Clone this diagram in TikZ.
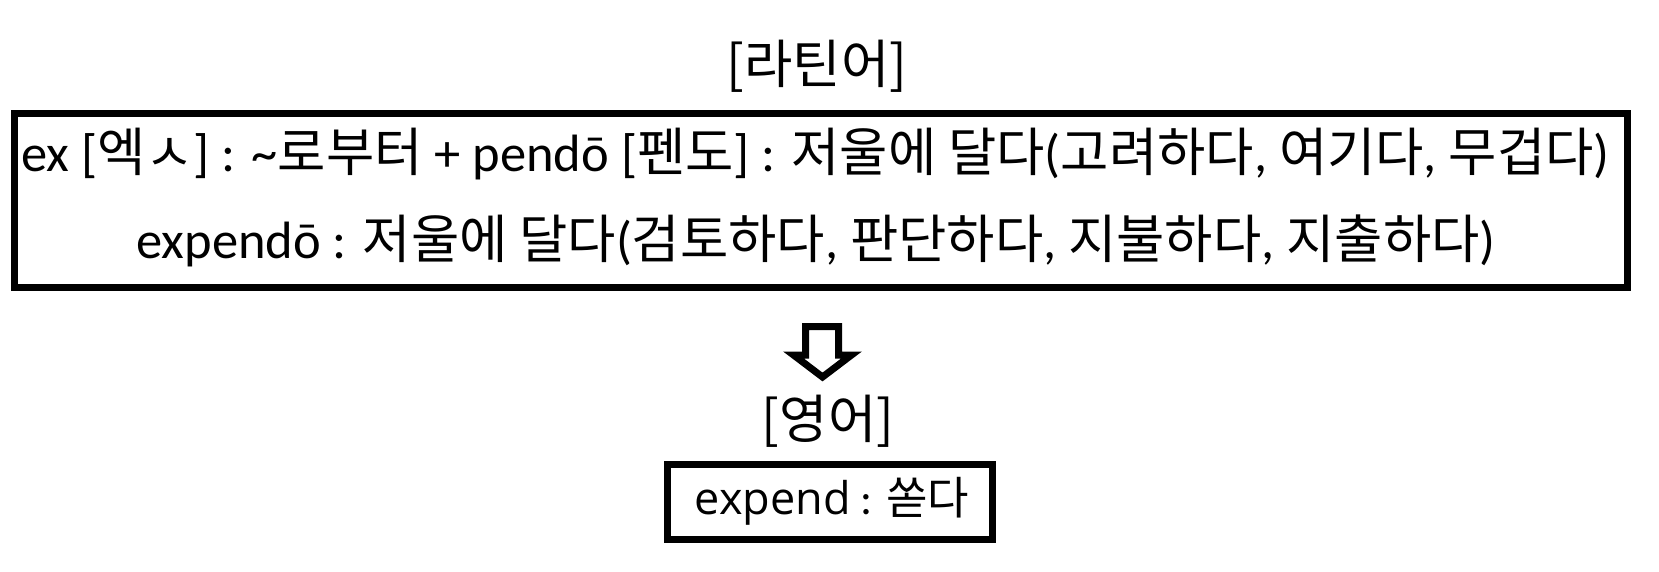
\documentclass[tikz,border=0pt]{standalone}
\usepackage{fontspec}
\setmainfont{Carlito}
\newfontfamily\kr{Noto Sans CJK KR}
\newfontfamily\osans{Open Sans}
\tikzset{
  boxline/.style={draw=black, line width=7pt, line join=miter},
  txt/.style={inner sep=0pt, anchor=center, font=\fontsize{52.5}{60}\selectfont},
  txts/.style={inner sep=0pt, anchor=center, font=\fontsize{45}{54}\selectfont},
}
\begin{document}
\begin{tikzpicture}[x=1pt,y=-1pt]
\useasboundingbox (0,0) rectangle (1659,571);
\node[txt] (lat) at (817,66) {{\kr [라틴어]}};
\node[boxline, minimum width=1613pt, minimum height=174pt, inner sep=0pt] (big) at (821,200.5) {};
\node[txt] (l1) at (815.5,154) {ex [{\kr 엑ㅅ}] : \textasciitilde{\kr 로부터} + pendō [{\kr 펜도}] : {\kr 저울에 달다}({\kr 고려하다}, {\kr 여기다}, {\kr 무겁다})};
\node[txt] (l2) at (816,241) {expendō : {\kr 저울에 달다}({\kr 검토하다}, {\kr 판단하다}, {\kr 지불하다}, {\kr 지출하다})};
\draw[boxline] (805.5,326.5) -- (838.5,326.5) -- (838.5,355) -- (851.5,355) -- (822.5,377) -- (793.5,355) -- (805.5,355) -- cycle;
\node[txt] (eng) at (828,421) {{\kr [영어]}};
\node[boxline, minimum width=325pt, minimum height=74.5pt, inner sep=0pt] (small) at (830,501.75) {};
\node[txts] (l3) at (832,501) {{\osans expend} : {\kr 쏟다}};
\end{tikzpicture}
\end{document}
